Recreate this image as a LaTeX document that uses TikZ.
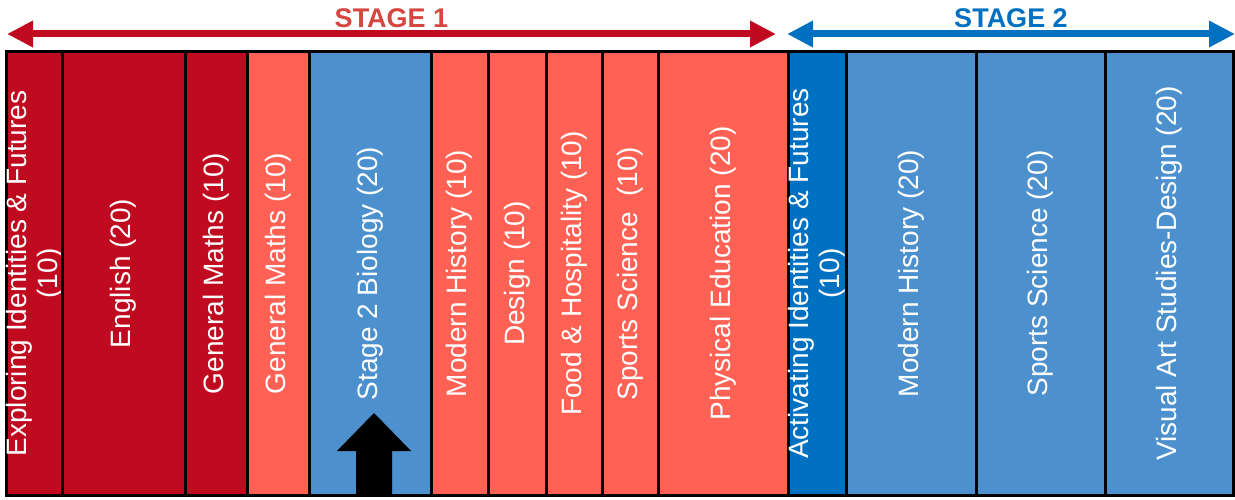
\documentclass[tikz,border=0pt]{standalone}
\usepackage{fontspec}
\setmainfont{Liberation Sans}
\usepackage{tikz}
\usetikzlibrary{arrows.meta, calc}
\usepackage{xcolor}
\definecolor{stagered}{HTML}{C00A1F}
\definecolor{stageonetext}{HTML}{D6453F}
\definecolor{salmon}{HTML}{FF6254}
\definecolor{midblue}{HTML}{4C91CD}
\definecolor{stageblue}{HTML}{0070C0}

\begin{document}
\begin{tikzpicture}[x=1pt, y=1pt,
        subject/.style={draw=black, line width=3pt, rotate=90, inner sep=0pt, outer sep=0pt, text=white, align=center, font=\fontsize{28}{31}\selectfont},
        stagearrow/.style={{Triangle[length=26pt,width=25pt]}-{Triangle[length=26pt,width=25pt]}, line width=7pt},
        stagelabel/.style={font=\fontsize{27}{30}\selectfont\bfseries, inner sep=0pt, above=3pt}]

                      \useasboundingbox (0,0) rectangle (1235,499);

                      % subject columns, left to right
                      \foreach \xa/\xb/\C/\T [count=\i] in {
                            7/62.5/stagered/{Exploring Identities \& Futures\\(10)},
                            62.5/185/stagered/{English (20)},
                            185/247.5/stagered/{General Maths (10)},
                            247.5/309.5/salmon/{General Maths (10)},
                            309.5/431/midblue/{Stage 2 Biology (20)},
                            431/488/salmon/{Modern History (10)},
                            488/546/salmon/{Design (10)},
                            546/602.5/salmon/{Food \& Hospitality (10)},
                            602.5/658/salmon/{Sports Science~ (10)},
                            658/788/salmon/{Physical Education (20)},
                            788/846/stageblue/{Activating Identities \& Futures\\(10)},
                            846/976/midblue/{Modern History (20)},
                            976/1105/midblue/{Sports Science (20)},
                            1105/1233.5/midblue/{Visual Art Studies-Design (20)}}{
                            \pgfmathsetmacro{\W}{\xb-\xa}
                            \pgfmathsetmacro{\X}{(\xa+\xb)/2}
                            \node[subject, fill=\C, minimum width=443pt, minimum height=\W pt] (col\i) at (\X,225.5) {\T};
                      }

                      \coordinate (s1l) at (7,465);
                      \coordinate (s1r) at (776,465);
                      \coordinate (s2l) at (787,465);
                      \coordinate (s2r) at (1235,465);
                      \draw[stagearrow, stagered] (s1l) -- node[stagelabel, text=stageonetext] (st1) {STAGE 1} (s1r);
                      \draw[stagearrow, stageblue] (s2l) -- node[stagelabel] (st2) {STAGE 2} (s2r);

                      % block arrow under Stage 2 Biology
                      \fill[black] (356,4) -- (356,48) -- (337,48) -- (374,86) -- (411,48) -- (392,48) -- (392,4) -- cycle;

                    \end{tikzpicture}
\end{document}
